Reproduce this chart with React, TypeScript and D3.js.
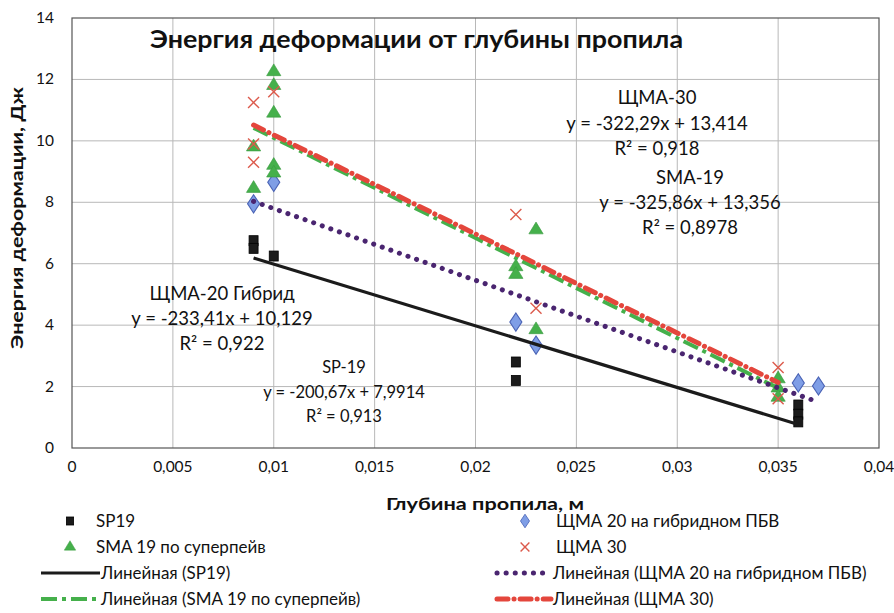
import React from "react";
import * as d3 from "d3";

const W = 894;
const H = 613;

const xTicks = [0, 0.005, 0.01, 0.015, 0.02, 0.025, 0.03, 0.035, 0.04];
const yTicks = [0, 2, 4, 6, 8, 10, 12, 14];

const sp19X = [0.009, 0.009, 0.01, 0.022, 0.022, 0.036, 0.036, 0.036];
const sp19Y = [6.75, 6.5, 6.25, 2.8, 2.2, 1.4, 1.1, 0.85];

const smaX = [0.009, 0.009, 0.01, 0.01, 0.01, 0.01, 0.01, 0.022, 0.022, 0.023, 0.023, 0.035, 0.035, 0.035];
const smaY = [9.8, 8.45, 12.25, 11.8, 10.9, 9.2, 8.95, 5.9, 5.65, 7.1, 3.85, 2.25, 1.95, 1.65];

const shma20X = [0.009, 0.01, 0.022, 0.023, 0.036, 0.037];
const shma20Y = [7.95, 8.65, 4.1, 3.35, 2.12, 2.02];

const shma30X = [0.009, 0.009, 0.009, 0.01, 0.022, 0.023, 0.035, 0.035];
const shma30Y = [11.25, 9.9, 9.3, 11.6, 7.6, 4.55, 2.62, 1.6];

// trend lines: slope, intercept, x range (from the equations in the chart)
const trendNames = ["SP19", "SMA19", "SHMA20", "SHMA30"];
const trendSlopes = [-200.67, -325.86, -233.41, -322.29];
const trendIntercepts = [7.9914, 13.356, 10.129, 13.414];
const trendXStart = [0.009, 0.009, 0.009, 0.009];
const trendXEnd = [0.036, 0.035, 0.037, 0.035];

const legendLeft = ["SP19", "SMA 19 по суперпейв", "Линейная (SP19)", "Линейная (SMA 19 по суперпейв)"];
const legendRight = ["ЩМА 20 на гибридном ПБВ", "ЩМА 30", "Линейная (ЩМА 20 на гибридном ПБВ)", "Линейная (ЩМА 30)"];

const annShma30 = ["ЩМА-30", "y = -322,29x + 13,414", "R² = 0,918"];
const annSma19 = ["SMA-19", "y = -325,86x + 13,356", "R² = 0,8978"];
const annShma20 = ["ЩМА-20 Гибрид", "y = -233,41x + 10,129", "R² = 0,922"];
const annSp19 = ["SP-19", "y = -200,67x + 7,9914", "R² = 0,913"];

const FONT = "Lato, 'Open Sans', sans-serif";

const C_BLACK = "#1b1b1b";
const C_GREEN = "#45b04b";
const C_BLUE = "#7f9ee6";
const C_BLUE_S = "#4a63b5";
const C_RED = "#dc5a4c";
const C_PURPLE = "#4a2570";

const x = d3.scaleLinear().domain([0, 0.04]).range([72, 879]);
const y = d3.scaleLinear().domain([0, 14]).range([448, 18]);

const fmt = (v: number) => String(+v.toFixed(3)).replace(".", ",");

const lineGen = d3.line<[number, number]>().x((d) => x(d[0])).y((d) => y(d[1]));

const triPath = d3.symbol().type(d3.symbolTriangle).size(80)() as string;
const diaPath = d3.symbol().type(d3.symbolDiamond).size(95)() as string;

type MP = { cx: number; cy: number; s?: number };

function Square({ cx, cy, s = 1 }: MP) {
  return <rect x={cx - 4.5 * s} y={cy - 5 * s} width={9 * s} height={10 * s} fill={C_BLACK} stroke="#000" strokeWidth={0.8} />;
}
function Tri({ cx, cy, s = 1 }: MP) {
  return <path d={triPath} transform={`translate(${cx},${cy}) scale(${1.05 * s},${s})`} fill={C_GREEN} stroke="#3a9a40" strokeWidth={0.6} />;
}
function Dia({ cx, cy, s = 1 }: MP) {
  return <path d={diaPath} transform={`translate(${cx},${cy}) scale(${1.15 * s},${s})`} fill={C_BLUE} stroke={C_BLUE_S} strokeWidth={1} />;
}
function Cross({ cx, cy, s = 1 }: MP) {
  const r = 5.5 * s;
  return (
    <g stroke={C_RED} strokeWidth={1.4}>
      <line x1={cx - r} y1={cy - r} x2={cx + r} y2={cy + r} />
      <line x1={cx - r} y1={cy + r} x2={cx + r} y2={cy - r} />
    </g>
  );
}

const trendStyles: Record<string, any> = {
  SP19: { stroke: C_BLACK, strokeWidth: 3.2 },
  SMA19: { stroke: C_GREEN, strokeWidth: 4, strokeDasharray: "16 5 4 5" },
  SHMA20: { stroke: C_PURPLE, strokeWidth: 5, strokeDasharray: "0.1 9", strokeLinecap: "round" },
  SHMA30: { stroke: "#e4463c", strokeWidth: 5, strokeDasharray: "11 6 0.1 6", strokeLinecap: "round" },
};

function Annotation({ lines, cx, y0, dy, fs }: { lines: string[]; cx: number; y0: number; dy: number; fs: number }) {
  return (
    <g fontFamily={FONT} fontSize={fs} fill="#111" textAnchor="middle">
      {lines.map((t, i) => (
        <text key={i} x={cx} y={y0 + i * dy}>
          {t}
        </text>
      ))}
    </g>
  );
}

export default function App() {
  const trendPts = trendNames.map((n, i) => {
    const pts: [number, number][] = [trendXStart[i], trendXEnd[i]].map((xv) => [xv, trendSlopes[i] * xv + trendIntercepts[i]]);
    return { name: n, d: lineGen(pts) as string };
  });

  const rowsY = [522, 548, 574, 600];

  return (
    <div style={{ position: "absolute", left: 0, top: 0 }}>
      <svg width={W} height={H} viewBox={`0 0 ${W} ${H}`} style={{ display: "block", background: "#fff" }}>
        <rect x={0} y={0} width={W} height={H} fill="#fff" />
        {/* gridlines */}
        <g stroke="#b8b8b8" strokeWidth={1}>
          {xTicks.slice(1, -1).map((t) => (
            <line key={"gx" + t} x1={x(t)} x2={x(t)} y1={y(14)} y2={y(0)} />
          ))}
          {yTicks.slice(1, -1).map((t) => (
            <line key={"gy" + t} x1={x(0)} x2={x(0.04)} y1={y(t)} y2={y(t)} />
          ))}
        </g>
        <rect x={x(0)} y={y(14)} width={x(0.04) - x(0)} height={y(0) - y(14)} fill="none" stroke="#555" strokeWidth={1.2} />

        {/* tick labels */}
        <g fontFamily={FONT} fontSize={15.5} fill="#111">
          {yTicks.map((t) => (
            <text key={"ty" + t} x={54} y={y(t) + 5} textAnchor="end">
              {t}
            </text>
          ))}
          {xTicks.map((t) => (
            <text key={"tx" + t} x={x(t)} y={472} textAnchor="middle">
              {fmt(t)}
            </text>
          ))}
        </g>

        {/* axis titles */}
        <text x={386} y={510} textLength={198} lengthAdjust="spacingAndGlyphs" fontFamily={FONT} fontSize={17} fontWeight="bold" fill="#111">
          Глубина пропила, м
        </text>
        <text transform={`translate(23,218) rotate(-90)`} textAnchor="middle" textLength={262} lengthAdjust="spacingAndGlyphs" fontFamily={FONT} fontSize={17} fontWeight="bold" fill="#111">
          Энергия деформации, Дж
        </text>

        {/* markers */}
        {sp19X.map((v, i) => (
          <Square key={"s" + i} cx={x(v)} cy={y(sp19Y[i])} />
        ))}
        {shma20X.map((v, i) => (
          <Dia key={"d" + i} cx={x(v)} cy={y(shma20Y[i])} />
        ))}
        {smaX.map((v, i) => (
          <Tri key={"t" + i} cx={x(v)} cy={y(smaY[i])} />
        ))}
        {shma30X.map((v, i) => (
          <Cross key={"c" + i} cx={x(v)} cy={y(shma30Y[i])} />
        ))}

        {/* trend lines */}
        {[1, 3, 2, 0].map((i) => (
          <path key={"tr" + i} d={trendPts[i].d} fill="none" {...trendStyles[trendPts[i].name]} />
        ))}

        {/* title */}
        <text x={150} y={48} textLength={533} lengthAdjust="spacingAndGlyphs" fontFamily={FONT} fontSize={25} fontWeight="bold" fill="#111">
          Энергия деформации от глубины пропила
        </text>

        {/* annotations */}
        <Annotation lines={annShma30} cx={657} y0={104} dy={25.5} fs={18.5} />
        <Annotation lines={annSma19} cx={690} y0={184} dy={25} fs={18.5} />
        <Annotation lines={annShma20} cx={222} y0={300} dy={25} fs={18.5} />
        <Annotation lines={annSp19} cx={344} y0={373} dy={24.5} fs={16.5} />

        {/* legend */}
        <g fontFamily={FONT} fontSize={17} fill="#111">
          <Square cx={70} cy={rowsY[0] - 1} s={0.8} />
          <Tri cx={70} cy={rowsY[1] - 1} s={0.8} />
          <line x1={41} x2={100} y1={rowsY[2] - 1} y2={rowsY[2] - 1} {...trendStyles.SP19} />
          <line x1={41} x2={100} y1={rowsY[3] - 1} y2={rowsY[3] - 1} {...trendStyles.SMA19} />
          {legendLeft.map((t, i) => (
            <text key={"ll" + i} x={i < 2 ? 96 : 101} y={rowsY[i] + 5}>
              {t}
            </text>
          ))}
          <Dia cx={525} cy={rowsY[0] - 1} s={0.75} />
          <Cross cx={525} cy={rowsY[1] - 1} s={0.8} />
          <line x1={497} x2={551} y1={rowsY[2] - 1} y2={rowsY[2] - 1} {...trendStyles.SHMA20} />
          <line x1={497} x2={551} y1={rowsY[3] - 1} y2={rowsY[3] - 1} {...trendStyles.SHMA30} />
          {legendRight.map((t, i) => (
            <text key={"lr" + i} x={i < 2 ? 556 : 553} y={rowsY[i] + 5}>
              {t}
            </text>
          ))}
        </g>
      </svg>
    </div>
  );
}
